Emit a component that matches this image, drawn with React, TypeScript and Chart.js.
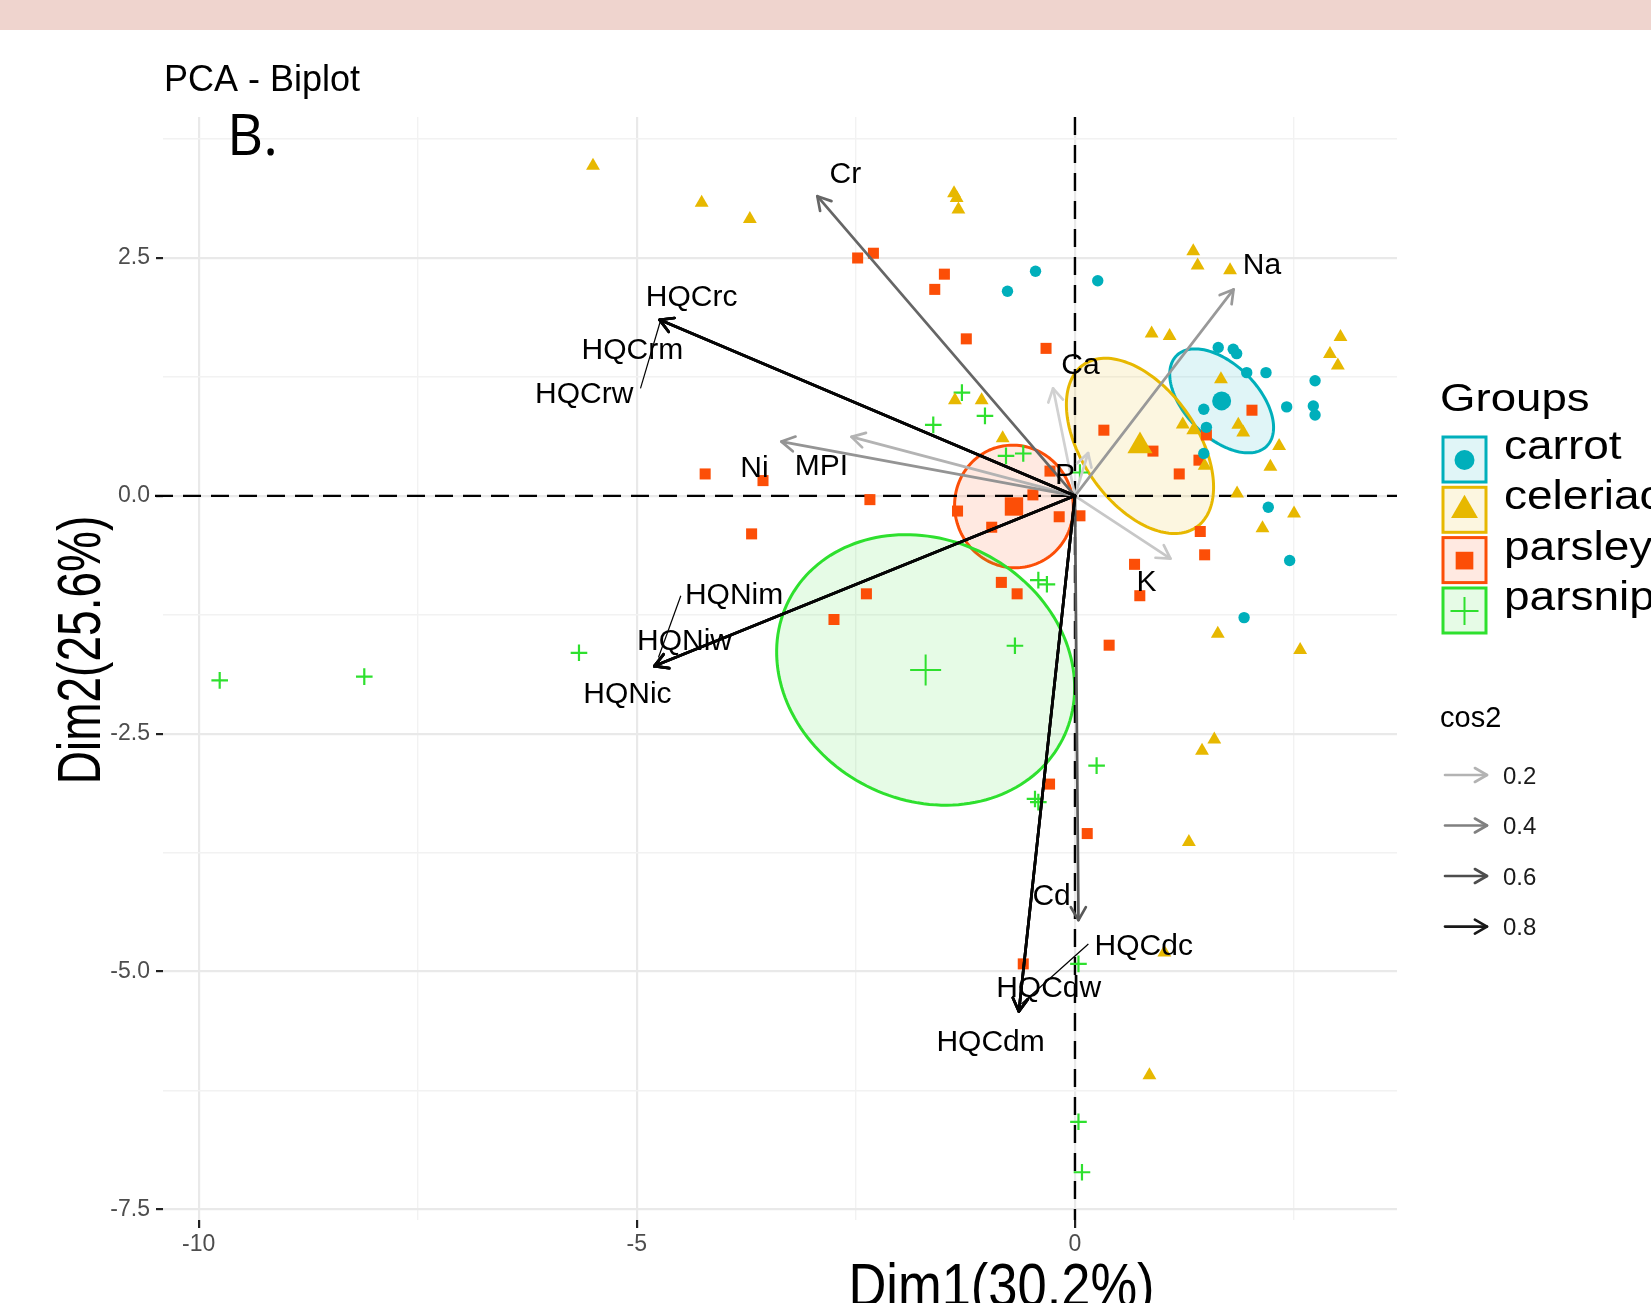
import React, { useEffect, useRef } from "react";
import { Chart, registerables } from "chart.js";

Chart.register(...registerables);

const W = 1651;
const H = 1303;
const FONT = '"Liberation Sans", Arial, Helvetica, sans-serif';

// ---------- text ----------
const titleText = "PCA - Biplot";
const panelTag = "B.";
const xAxisTitle = "Dim1(30.2%)";
const yAxisTitle = "Dim2(25.6%)";
const groupsTitle = "Groups";
const cos2Title = "cos2";

// ---------- groups ----------
const groupNames = ["carrot", "celeriac", "parsley", "parsnip"];
const groupColors = ["#00AFBB", "#E7B800", "#FC4E07", "#2EE02E"];
const groupFills = ["rgba(0,175,187,0.12)", "rgba(231,184,0,0.12)", "rgba(252,78,7,0.12)", "rgba(46,224,46,0.12)"];
const groupShapes = ["circle", "triangle", "rect", "cross"];

// ---------- individuals ----------
const carrotX = [-0.77, -0.45, 0.26, 1.635, 1.806, 1.845, 1.96, 2.18, 2.74, 2.416, 2.72, 2.74, 1.47, 1.5, 1.47, 2.206, 2.45, 1.93];
const carrotY = [2.15, 2.36, 2.26, 1.56, 1.54, 1.495, 1.295, 1.295, 1.21, 0.935, 0.945, 0.85, 0.91, 0.72, 0.445, -0.12, -0.68, -1.28];

const celeriacX = [-5.5, -4.26, -3.71, -1.38, -1.35, -1.33, 1.35, 1.4, 1.77, 0.875, 1.08, 3.03, 2.91, 3.0, 1.666, -1.37, -1.065, -0.825, 1.23, 1.35, 1.864, 1.92, 1.48, 2.33, 2.23, 1.85, 2.5, 2.14, 1.63, 2.57, 1.59, 1.45, 1.3, 1.02, 0.85];
const celeriacY = [3.47, 3.08, 2.91, 3.18, 3.13, 3.01, 2.57, 2.42, 2.37, 1.705, 1.68, 1.67, 1.49, 1.37, 1.226, 1.005, 1.005, 0.606, 0.75, 0.69, 0.746, 0.665, 0.315, 0.525, 0.305, 0.025, -0.186, -0.34, -1.45, -1.62, -2.56, -2.68, -3.64, -4.8, -6.09];

const parsleyX = [-2.48, -2.3, -1.49, -1.6, -1.24, -0.33, 0.33, 0.89, 1.19, 1.415, 1.5, 2.02, -4.22, -3.56, -2.34, -0.285, -0.48, -1.34, -0.18, 0.057, -0.95, -3.69, 1.43, 1.48, 0.68, 0.74, -0.84, -0.66, -2.38, -2.75, 0.39, -0.29, 0.14, -0.59];
const parsleyY = [2.5, 2.55, 2.33, 2.17, 1.65, 1.55, 0.69, 0.47, 0.23, 0.375, 0.64, 0.9, 0.23, 0.16, -0.04, 0.26, 0.01, -0.16, -0.22, -0.21, -0.33, -0.4, -0.375, -0.62, -0.72, -1.05, -0.91, -1.03, -1.03, -1.3, -1.57, -3.03, -3.55, -4.92];

const parsnipX = [-1.29, -1.027, -1.617, -0.787, -0.59, 0.057, -9.76, -8.11, -5.66, -0.418, -0.32, -0.685, 0.247, -0.456, -0.418, 0.04, 0.04, 0.08];
const parsnipY = [1.085, 0.84, 0.746, 0.42, 0.445, 0.245, -1.94, -1.9, -1.65, -0.886, -0.93, -1.576, -2.836, -3.186, -3.22, -4.92, -6.58, -7.11];

// group means (also ellipse centres)
const meanX = [1.674, 0.742, -0.696, -1.704];
const meanY = [0.998, 0.525, -0.112, -1.83];

// ellipse conjugate semi-axes (data units)
const ellipseAx = [0.515, 0.644, 0.676, 1.562];
const ellipseAy = [-0.475, -0.854, 0.03, -0.73];
const ellipseBx = [0.293, 0.539, -0.046, -0.672];
const ellipseBy = [0.27, 0.345, 0.644, -1.22];

// ---------- variables ----------
const varNames = ["Ca", "P", "K", "MPI", "Na", "Ni", "Cr", "Cd", "HQCrc", "HQCrm", "HQCrw", "HQNim", "HQNiw", "HQNic", "HQCdc", "HQCdw", "HQCdm"];
const varX = [-0.25, 0.15, 1.09, -2.55, 1.81, -3.35, -2.94, 0.04, -4.74, -4.74, -4.74, -4.8, -4.8, -4.8, -0.64, -0.64, -0.64];
const varY = [1.13, 0.45, -0.66, 0.62, 2.17, 0.57, 3.15, -4.46, 1.85, 1.85, 1.85, -1.79, -1.79, -1.79, -5.42, -5.42, -5.42];
const varCos2 = [0.08, 0.1, 0.12, 0.2, 0.3, 0.32, 0.5, 0.55, 0.88, 0.88, 0.88, 0.88, 0.88, 0.88, 0.88, 0.88, 0.88];
const labelX = [0.063, -0.114, 0.816, -2.893, 2.134, -3.657, -2.62, -0.267, -4.374, -5.05, -5.6, -3.89, -4.456, -5.107, 0.785, -0.3, -0.963];
const labelY = [1.387, 0.236, -0.893, 0.333, 2.44, 0.305, 3.4, -4.186, 2.11, 1.55, 1.09, -1.03, -1.508, -2.07, -4.711, -5.158, -5.727];

// label leader segments
const leaderX1 = [-4.958, -4.498, 0.153];
const leaderY1 = [1.13, -1.05, -4.711];
const leaderX2 = [-4.728, -4.753, -0.612];
const leaderY2 = [1.846, -1.7, -5.342];

// ---------- axes ----------
const xMin = -10.407;
const xMax = 3.675;
const yMin = -7.612;
const yMax = 3.982;
const xTickValues = [-10, -5, 0];
const xTickLabels = ["-10", "-5", "0"];
const yTickValues = [2.5, 0, -2.5, -5, -7.5];
const yTickLabels = ["2.5", "0.0", "-2.5", "-5.0", "-7.5"];

// cos2 legend
const cos2LegendValues = [0.2, 0.4, 0.6, 0.8];
const cos2LegendLabels = ["0.2", "0.4", "0.6", "0.8"];

const groupX = [carrotX, celeriacX, parsleyX, parsnipX];
const groupY = [carrotY, celeriacY, parsleyY, parsnipY];
const pointRadius = [5.7, 8.0, 7.8, 8.3];
const meanRadius = [9.5, 14.5, 13, 15.5];

function cos2Color(c: number) {
  const g = Math.round(Math.max(0, Math.min(1, 0.9 - c)) * 255);
  return `rgb(${g},${g},${g})`;
}

function findIdx(list: number[], v: number) {
  return list.findIndex((t) => Math.abs(t - v) < 1e-6);
}

function drawArrow(ctx: CanvasRenderingContext2D, x1: number, y1: number, x2: number, y2: number, color: string, lw: number, head: number) {
  ctx.save();
  ctx.strokeStyle = color;
  ctx.lineWidth = lw;
  ctx.lineCap = "round";
  ctx.lineJoin = "round";
  ctx.beginPath();
  ctx.moveTo(x1, y1);
  ctx.lineTo(x2, y2);
  ctx.stroke();
  const ang = Math.atan2(y2 - y1, x2 - x1);
  const a = Math.PI / 6;
  ctx.beginPath();
  ctx.moveTo(x2 - head * Math.cos(ang - a), y2 - head * Math.sin(ang - a));
  ctx.lineTo(x2, y2);
  ctx.lineTo(x2 - head * Math.cos(ang + a), y2 - head * Math.sin(ang + a));
  ctx.stroke();
  ctx.restore();
}

function drawText(ctx: CanvasRenderingContext2D, text: string, x: number, y: number, font: string, color: string, align: CanvasTextAlign, baseline: CanvasTextBaseline, sx = 1, rot = 0) {
  ctx.save();
  ctx.translate(x, y);
  if (rot) ctx.rotate(rot);
  ctx.scale(sx, 1);
  ctx.font = font;
  ctx.fillStyle = color;
  ctx.textAlign = align;
  ctx.textBaseline = baseline;
  ctx.fillText(text, 0, 0);
  ctx.restore();
}

function drawSymbol(ctx: CanvasRenderingContext2D, shape: string, cx: number, cy: number, r: number, color: string) {
  ctx.save();
  ctx.fillStyle = color;
  ctx.strokeStyle = color;
  ctx.beginPath();
  if (shape === "circle") {
    ctx.arc(cx, cy, r, 0, Math.PI * 2);
    ctx.fill();
  } else if (shape === "triangle") {
    ctx.moveTo(cx, cy - r);
    ctx.lineTo(cx + r * Math.sin((2 * Math.PI) / 3), cy - r * Math.cos((2 * Math.PI) / 3));
    ctx.lineTo(cx + r * Math.sin((4 * Math.PI) / 3), cy - r * Math.cos((4 * Math.PI) / 3));
    ctx.closePath();
    ctx.fill();
  } else if (shape === "rect") {
    const s = r * Math.SQRT1_2;
    ctx.rect(cx - s, cy - s, 2 * s, 2 * s);
    ctx.fill();
  } else {
    ctx.lineWidth = 2;
    ctx.moveTo(cx - r, cy);
    ctx.lineTo(cx + r, cy);
    ctx.moveTo(cx, cy - r);
    ctx.lineTo(cx, cy + r);
    ctx.stroke();
  }
  ctx.restore();
}

const overlayPlugin = {
  id: "overlay",
  beforeDraw(chart: any) {
    const ctx: CanvasRenderingContext2D = chart.ctx;
    ctx.save();
    ctx.fillStyle = "#ffffff";
    ctx.fillRect(0, 0, W, H);
    ctx.fillStyle = "#efd4ce";
    ctx.fillRect(0, 0, W, 30);
    ctx.restore();
  },
  beforeDatasetsDraw(chart: any) {
    const ctx: CanvasRenderingContext2D = chart.ctx;
    const ca = chart.chartArea;
    const xs = chart.scales.x;
    const ys = chart.scales.y;
    ctx.save();
    ctx.beginPath();
    ctx.rect(ca.left - 10, ca.top, ca.right - ca.left + 10, ca.bottom - ca.top);
    ctx.clip();
    // ellipses
    for (let g = 0; g < groupNames.length; g++) {
      ctx.beginPath();
      const N = 160;
      for (let k = 0; k <= N; k++) {
        const t = (2 * Math.PI * k) / N;
        const dx = meanX[g] + ellipseAx[g] * Math.cos(t) + ellipseBx[g] * Math.sin(t);
        const dy = meanY[g] + ellipseAy[g] * Math.cos(t) + ellipseBy[g] * Math.sin(t);
        const px = xs.getPixelForValue(dx);
        const py = ys.getPixelForValue(dy);
        if (k === 0) ctx.moveTo(px, py);
        else ctx.lineTo(px, py);
      }
      ctx.closePath();
      ctx.fillStyle = groupFills[g];
      ctx.fill();
      ctx.lineWidth = 3;
      ctx.strokeStyle = groupColors[g];
      ctx.stroke();
    }
    // dashed zero lines
    ctx.setLineDash([18, 10]);
    ctx.lineWidth = 2.4;
    ctx.strokeStyle = "#000";
    const y0 = ys.getPixelForValue(0);
    const x0 = xs.getPixelForValue(0);
    ctx.beginPath();
    ctx.moveTo(ca.left - 8, y0);
    ctx.lineTo(ca.right, y0);
    ctx.stroke();
    ctx.beginPath();
    ctx.moveTo(x0, ca.top);
    ctx.lineTo(x0, ca.bottom);
    ctx.stroke();
    ctx.restore();
  },
  afterDatasetsDraw(chart: any) {
    const ctx: CanvasRenderingContext2D = chart.ctx;
    const xs = chart.scales.x;
    const ys = chart.scales.y;
    const ox = xs.getPixelForValue(0);
    const oy = ys.getPixelForValue(0);
    const order = varNames.map((_, i) => i).sort((a, b) => varCos2[a] - varCos2[b]);
    for (const i of order) {
      drawArrow(ctx, ox, oy, xs.getPixelForValue(varX[i]), ys.getPixelForValue(varY[i]), cos2Color(varCos2[i]), 2.7, 15);
    }
    ctx.save();
    ctx.strokeStyle = "#000";
    ctx.lineWidth = 1.2;
    for (let i = 0; i < leaderX1.length; i++) {
      ctx.beginPath();
      ctx.moveTo(xs.getPixelForValue(leaderX1[i]), ys.getPixelForValue(leaderY1[i]));
      ctx.lineTo(xs.getPixelForValue(leaderX2[i]), ys.getPixelForValue(leaderY2[i]));
      ctx.stroke();
    }
    ctx.restore();
    for (let i = 0; i < varNames.length; i++) {
      drawText(ctx, varNames[i], xs.getPixelForValue(labelX[i]), ys.getPixelForValue(labelY[i]) + 10.5, `30px ${FONT}`, "#000", "center", "alphabetic");
    }
  },
  afterDraw(chart: any) {
    const ctx: CanvasRenderingContext2D = chart.ctx;
    // titles
    drawText(ctx, titleText, 164, 91, `36px ${FONT}`, "#000", "left", "alphabetic");
    drawText(ctx, panelTag, 227, 155, `56px "Open Sans", ${FONT}`, "#000", "left", "alphabetic");
    drawText(ctx, xAxisTitle, 1001.5, 1306, `61px ${FONT}`, "#000", "center", "alphabetic", 0.86);
    drawText(ctx, yAxisTitle, 99.5, 650, `61px ${FONT}`, "#000", "center", "alphabetic", 0.755, -Math.PI / 2);

    // groups legend
    drawText(ctx, groupsTitle, 1440, 411, `38px ${FONT}`, "#000", "left", "alphabetic", 1.2);
    const boxTops = [437, 487.3, 537.6, 588];
    const symR = [10, 15.5, 12.5, 14];
    for (let g = 0; g < groupNames.length; g++) {
      const bx = 1443;
      const by = boxTops[g];
      ctx.save();
      ctx.fillStyle = "#fff";
      ctx.fillRect(bx, by, 43, 45);
      ctx.fillStyle = groupFills[g];
      ctx.fillRect(bx, by, 43, 45);
      ctx.lineWidth = 3;
      ctx.strokeStyle = groupColors[g];
      ctx.strokeRect(bx, by, 43, 45);
      ctx.restore();
      drawSymbol(ctx, groupShapes[g], bx + 21.5, by + 23, symR[g], groupColors[g]);
      drawText(ctx, groupNames[g], 1504, by + 22, `40px ${FONT}`, "#000", "left", "alphabetic", 1.15);
    }

    // cos2 legend
    drawText(ctx, cos2Title, 1440, 727, `29px ${FONT}`, "#000", "left", "alphabetic");
    const rowY = [775, 825.5, 876, 926.6];
    for (let i = 0; i < cos2LegendValues.length; i++) {
      drawArrow(ctx, 1445, rowY[i], 1487, rowY[i], cos2Color(cos2LegendValues[i]), 2.6, 14);
      drawText(ctx, cos2LegendLabels[i], 1503, rowY[i] + 8.5, `24px ${FONT}`, "#1a1a1a", "left", "alphabetic");
    }
  },
};

export default function App() {
  const canvasRef = useRef<HTMLCanvasElement | null>(null);

  useEffect(() => {
    const canvas = canvasRef.current;
    if (!canvas) return;

    const datasets: any[] = [];
    for (let g = 0; g < groupNames.length; g++) {
      const isCross = groupShapes[g] === "cross";
      datasets.push({
        label: groupNames[g] + " mean",
        data: [{ x: meanX[g], y: meanY[g] }],
        pointStyle: groupShapes[g],
        pointRadius: meanRadius[g],
        backgroundColor: groupColors[g],
        borderColor: groupColors[g],
        borderWidth: isCross ? 2 : 0,
        order: 1,
      });
      datasets.push({
        label: groupNames[g],
        data: groupX[g].map((v, j) => ({ x: v, y: groupY[g][j] })),
        pointStyle: groupShapes[g],
        pointRadius: pointRadius[g],
        backgroundColor: groupColors[g],
        borderColor: groupColors[g],
        borderWidth: isCross ? 2.2 : 0,
        order: 2,
      });
    }

    const isMajorX = (v: number) => findIdx(xTickValues, v) >= 0;
    const isMajorY = (v: number) => findIdx(yTickValues, v) >= 0;

    const chart = new Chart(canvas, {
      type: "scatter",
      data: { datasets },
      plugins: [overlayPlugin],
      options: {
        responsive: false,
        animation: false,
        devicePixelRatio: 1,
        events: [],
        layout: { padding: { left: 0, right: W - 1397, top: 117, bottom: 0 }, autoPadding: false },
        plugins: {
          legend: { display: false },
          title: { display: false },
          tooltip: { enabled: false },
        },
        scales: {
          x: {
            type: "linear",
            min: xMin,
            max: xMax,
            border: { display: false },
            afterFit: (s: any) => {
              s.height = H - 1220;
            },
            ticks: {
              stepSize: 2.5,
              includeBounds: false,
              autoSkip: false,
              maxRotation: 0,
              padding: 3,
              color: "#4d4d4d",
              font: { family: FONT, size: 23 },
              callback: (v: any) => {
                const i = findIdx(xTickValues, Number(v));
                return i >= 0 ? xTickLabels[i] : "";
              },
            },
            grid: {
              color: (c: any) => (isMajorX(c.tick ? c.tick.value : NaN) ? "#e9e9e9" : "#f2f2f2"),
              lineWidth: (c: any) => (isMajorX(c.tick ? c.tick.value : NaN) ? 2.2 : 1.4),
              tickColor: (c: any) => (isMajorX(c.tick ? c.tick.value : NaN) ? "#222" : "rgba(0,0,0,0)"),
              tickLength: 8,
              tickWidth: 2.2,
              drawTicks: true,
            },
          },
          y: {
            type: "linear",
            min: yMin,
            max: yMax,
            border: { display: false },
            afterFit: (s: any) => {
              s.width = 163;
            },
            ticks: {
              stepSize: 1.25,
              includeBounds: false,
              autoSkip: false,
              padding: 6,
              color: "#4d4d4d",
              font: { family: FONT, size: 23 },
              callback: (v: any) => {
                const i = findIdx(yTickValues, Number(v));
                return i >= 0 ? yTickLabels[i] : "";
              },
            },
            grid: {
              color: (c: any) => (isMajorY(c.tick ? c.tick.value : NaN) ? "#e9e9e9" : "#f2f2f2"),
              lineWidth: (c: any) => (isMajorY(c.tick ? c.tick.value : NaN) ? 2.2 : 1.4),
              tickColor: (c: any) => (isMajorY(c.tick ? c.tick.value : NaN) ? "#222" : "rgba(0,0,0,0)"),
              tickLength: 7,
              tickWidth: 2.2,
              drawTicks: true,
            },
          },
        },
      } as any,
    });

    return () => {
      chart.destroy();
    };
  }, []);

  return (
    <div style={{ position: "fixed", left: 0, top: 0, width: W, height: H, overflow: "hidden", background: "#fff" }}>
      <canvas ref={canvasRef} width={W} height={H} style={{ display: "block", width: W, height: H }} />
    </div>
  );
}
